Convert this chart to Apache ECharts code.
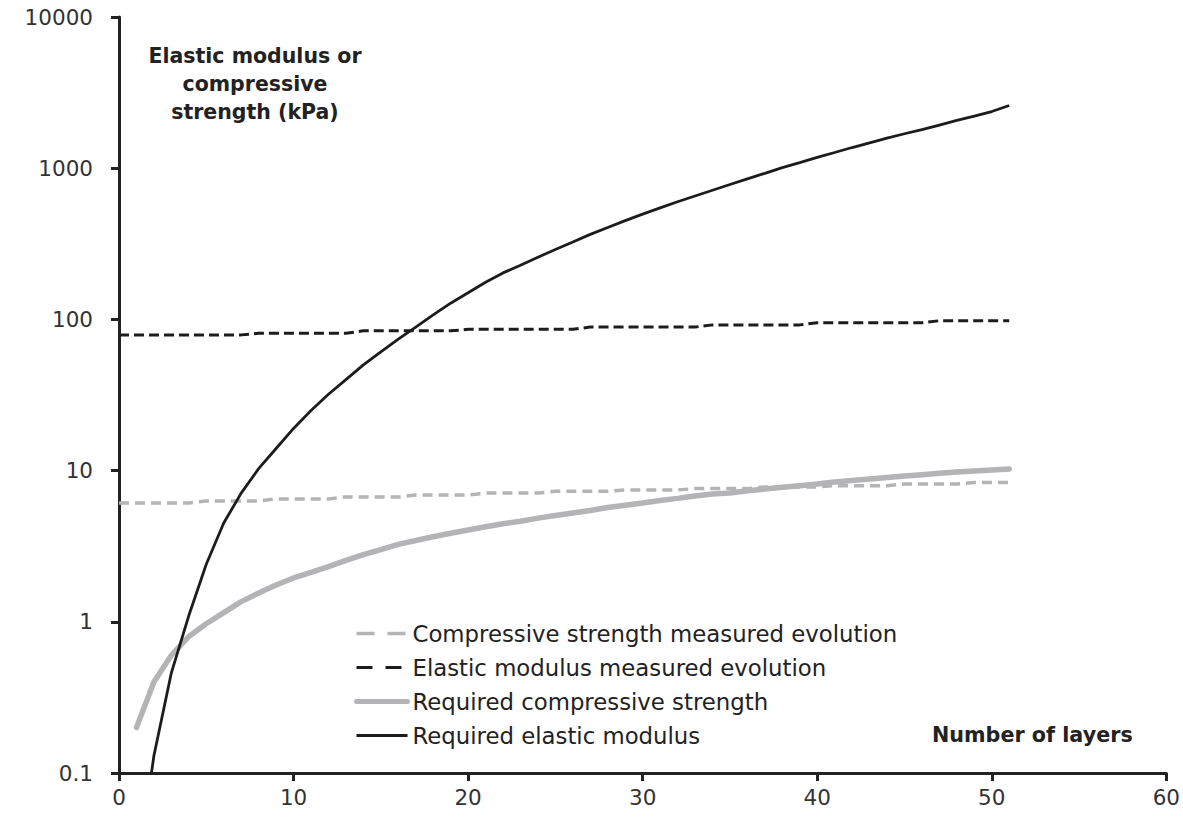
<!DOCTYPE html>
<html>
<head>
<meta charset="utf-8">
<script src="https://cdn.jsdelivr.net/npm/echarts@6/dist/echarts.min.js"></script>
<style>
  html, body { margin: 0; padding: 0; background: #ffffff; }
  #chart { width: 1183px; height: 819px; }
</style>
</head>
<body>
<div id="chart"></div>
<script>
// Layer counts for the measured curves (0..51) and the required curves (1..51)
const layersMeasured = [0,1,2,3,4,5,6,7,8,9,10,11,12,13,14,15,16,17,18,19,20,21,22,23,24,25,26,27,28,29,30,31,32,33,34,35,36,37,38,39,40,41,42,43,44,45,46,47,48,49,50,51];
const layersRequired = [1,2,3,4,5,6,7,8,9,10,11,12,13,14,15,16,17,18,19,20,21,22,23,24,25,26,27,28,29,30,31,32,33,34,35,36,37,38,39,40,41,42,43,44,45,46,47,48,49,50,51];

// Measured evolution of the material (kPa)
const compressiveMeasured = [6.1,6.1,6.1,6.1,6.1, 6.3,6.3,6.3,6.3, 6.5,6.5,6.5,6.5, 6.7,6.7,6.7,6.7, 6.9,6.9,6.9,6.9, 7.1,7.1,7.1,7.1, 7.3,7.3,7.3,7.3, 7.45,7.45,7.45,7.45, 7.6,7.6,7.6,7.6, 7.8,7.8,7.8,7.8, 7.95,7.95,7.95,7.95, 8.15,8.15,8.15,8.15, 8.35,8.35,8.35];
const elasticMeasured = [79,79,79,79,79,79,79,79, 81,81,81,81,81,81, 84,84,84,84,84,84, 86,86,86,86,86,86,86, 89,89,89,89,89,89,89, 92,92,92,92,92,92, 95,95,95,95,95,95,95, 98,98,98,98,98];

// Required values as the structure grows (kPa)
const compressiveRequired = [0.20,0.40,0.60,0.80,0.97,1.15,1.36,1.55,1.75,1.95,2.12,2.32,2.55,2.78,3.0,3.25,3.45,3.65,3.85,4.05,4.25,4.45,4.62,4.85,5.05,5.25,5.45,5.7,5.9,6.1,6.35,6.55,6.8,7.0,7.1,7.35,7.55,7.75,7.95,8.15,8.4,8.6,8.8,9.0,9.2,9.4,9.6,9.8,9.95,10.1,10.25];
const elasticRequired = [0.02,0.13,0.46,1.1,2.4,4.5,7.1,10.3,14,19,25,32,40,50,61,74,89,107,128,150,176,203,228,258,290,325,365,405,450,497,547,600,655,715,780,850,925,1010,1090,1180,1270,1370,1470,1580,1690,1800,1930,2070,2210,2370,2600];

const seriesNames = [
  'Compressive strength measured evolution',
  'Elastic modulus measured evolution',
  'Required compressive strength',
  'Required elastic modulus'
];
const yTickValues = [0.1, 1, 10, 100, 1000, 10000];

const pairs = (xs, ys) => xs.map((x, i) => [x, ys[i]]);

const FONT = '"DejaVu Sans", sans-serif';
const GREY = '#b4b4b6';
const DARK = '#1c1c1c';
const AXIS = '#222222';

const chart = echarts.init(document.getElementById('chart'), null, { renderer: 'svg' });

chart.setOption({
  animation: false,
  backgroundColor: '#ffffff',
  grid: { left: 119, right: 12, top: 17, bottom: 46, containLabel: false },
  legend: {
    orient: 'vertical',
    left: 354,
    top: 622,
    padding: 0,
    itemWidth: 51,
    itemHeight: 14,
    itemGap: 11,
    itemStyle: { opacity: 0 },
    lineStyle: { width: 'inherit', type: 'inherit' },
    data: [
      { name: seriesNames[0], lineStyle: { width: 3.5, type: [18, 13] } },
      { name: seriesNames[1], lineStyle: { width: 3, type: [16, 13] } },
      { name: seriesNames[2], lineStyle: { width: 5 } },
      { name: seriesNames[3], lineStyle: { width: 3 } }
    ],
    textStyle: { fontFamily: FONT, fontSize: 22.8, lineHeight: 22, color: '#222222' },
    selectedMode: false
  },
  xAxis: {
    type: 'value',
    min: 0,
    max: 60,
    interval: 10,
    axisLine: { show: true, onZero: false, lineStyle: { color: AXIS, width: 3 } },
    axisTick: { show: true, inside: false, length: 8, lineStyle: { color: AXIS, width: 3 } },
    axisLabel: { fontFamily: FONT, fontSize: 21.5, color: '#333333', margin: 13 },
    splitLine: { show: false }
  },
  yAxis: {
    type: 'log',
    logBase: 10,
    min: 0.1,
    max: 10000,
    axisLine: { show: true, onZero: false, lineStyle: { color: AXIS, width: 3 } },
    axisTick: { show: true, inside: false, length: 8, lineStyle: { color: AXIS, width: 3 } },
    axisLabel: {
      fontFamily: FONT, fontSize: 21.5, color: '#333333', margin: 26,
      formatter: v => {
        const hit = yTickValues.find(t => Math.abs(t - v) / t < 1e-6);
        return hit === undefined ? '' : String(hit);
      }
    },
    splitLine: { show: false },
    minorTick: { show: false }
  },
  graphic: [
    {
      type: 'text',
      x: 255,
      y: 42,
      style: {
        text: 'Elastic modulus or\ncompressive\nstrength (kPa)',
        fontFamily: FONT, fontSize: 20.5, fontWeight: 'bold', fill: '#222222',
        align: 'center', verticalAlign: 'top', lineHeight: 28
      }
    },
    {
      type: 'text',
      x: 932,
      y: 724,
      style: {
        text: 'Number of layers',
        fontFamily: FONT, fontSize: 20.7, fontWeight: 'bold', fill: '#222222',
        align: 'left', verticalAlign: 'top'
      }
    }
  ],
  series: [
    {
      name: seriesNames[0], type: 'line', symbol: 'none', clip: true, z: 2,
      data: pairs(layersMeasured, compressiveMeasured),
      lineStyle: { color: GREY, width: 3.5, type: [10, 6] },
      itemStyle: { color: GREY }
    },
    {
      name: seriesNames[1], type: 'line', symbol: 'none', clip: true, z: 3,
      data: pairs(layersMeasured, elasticMeasured),
      lineStyle: { color: DARK, width: 3, type: [10, 5] },
      itemStyle: { color: DARK }
    },
    {
      name: seriesNames[2], type: 'line', symbol: 'none', clip: true, z: 2,
      data: pairs(layersRequired, compressiveRequired),
      lineStyle: { color: GREY, width: 5.5, cap: 'round' },
      itemStyle: { color: GREY }
    },
    {
      name: seriesNames[3], type: 'line', symbol: 'none', clip: true, z: 4,
      data: pairs(layersRequired, elasticRequired),
      lineStyle: { color: DARK, width: 2.8 },
      itemStyle: { color: DARK }
    }
  ]
});
</script>
</body>
</html>
